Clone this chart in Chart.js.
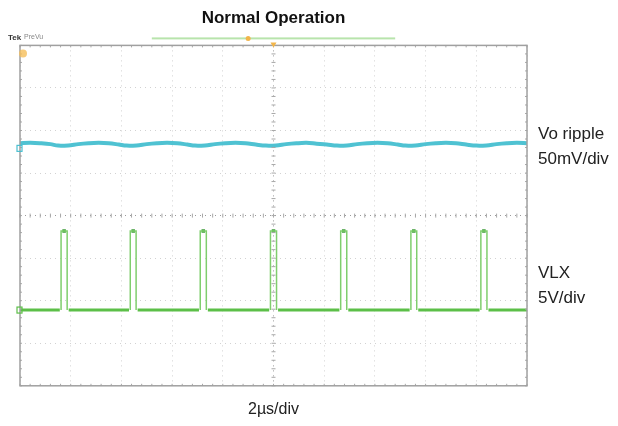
<!DOCTYPE html>
<html lang="en">
<head>
<meta charset="UTF-8">
<title>Normal Operation</title>
<script src="https://cdn.jsdelivr.net/npm/chart.js"></script>
<style>
  html, body { margin: 0; padding: 0; background: #fff; }
</style>
</head>
<body>
<canvas id="scope" width="618" height="426"></canvas>
<script>
// horizontal: time in µs (2µs/div, 10 div); vertical: screen divisions (8 div, 0 = centre)
const timeMin = 0, timeMax = 20, timeStep = 2;
const divMin = -4, divMax = 4;

// Vo ripple trace (cyan), in divisions
const voTimes = [0, 0.4, 0.8, 1.2, 1.5, 1.9, 2.3, 2.7, 3.1, 3.5, 3.9, 4.2, 4.6, 5.0, 5.4, 5.8, 6.2, 6.6, 6.9, 7.3,
                 7.7, 8.1, 8.5, 8.9, 9.3, 9.7, 10.1, 10.5, 10.9, 11.3, 11.7, 12.1, 12.5, 12.9, 13.3, 13.7, 14.1, 14.5,
                 14.9, 15.2, 15.6, 16.0, 16.4, 16.8, 17.2, 17.6, 18.0, 18.4, 18.8, 19.2, 19.6, 20.0];
const voLevel = [1.70, 1.71, 1.70, 1.68, 1.645, 1.65, 1.68, 1.70, 1.71, 1.70, 1.67, 1.645, 1.65, 1.68, 1.70, 1.71, 1.70, 1.67, 1.645, 1.65,
                 1.68, 1.70, 1.71, 1.70, 1.67, 1.645, 1.65, 1.68, 1.70, 1.71, 1.69, 1.67, 1.645, 1.65, 1.68, 1.70, 1.71, 1.70,
                 1.67, 1.645, 1.65, 1.68, 1.70, 1.71, 1.70, 1.67, 1.645, 1.65, 1.68, 1.70, 1.71, 1.70];

// VLX switch node (green): pulse edges in µs, levels in divisions
const vlxRise = [1.62, 4.35, 7.11, 9.88, 12.65, 15.42, 18.18];
const vlxFall = [1.86, 4.58, 7.35, 10.12, 12.89, 15.65, 18.42];
const vlxLow = -2.22;
const vlxHigh = -0.36;

const channelTags = [{ label: 'C', level: 1.58, color: '#49bfd0' }, { label: 'D', level: -2.22, color: '#5cbf48' }];
const sideLabels = [{ lines: ['Vo ripple', '50mV/div'], level: 1.79 }, { lines: ['VLX', '5V/div'], level: -1.47 }];

// build line point lists from the read values
const voPoints = voTimes.map((t, i) => ({ x: t, y: voLevel[i] }));

const lowPoints = [{ x: timeMin, y: vlxLow }];
const pulsePoints = [];
const topPoints = [];
vlxRise.forEach((r, i) => {
    const f = vlxFall[i];
    lowPoints.push({ x: r - 0.05, y: vlxLow }, { x: r, y: null }, { x: f + 0.06, y: vlxLow });
    pulsePoints.push({ x: r, y: vlxLow }, { x: r, y: vlxHigh }, { x: f, y: vlxHigh }, { x: f, y: vlxLow }, { x: f + 0.01, y: null });
    topPoints.push({ x: (r + f) / 2, y: vlxHigh });
});
lowPoints.push({ x: timeMax, y: vlxLow });

const scopeDecor = {
    id: 'scopeDecor',
    afterDraw(chart) {
        const { ctx, chartArea: a, scales: { x, y } } = chart;
        ctx.save();

        // minor ticks on the centre cross and frame
        ctx.strokeStyle = '#a8a8a8';
        ctx.lineWidth = 1;
        const cx = x.getPixelForValue(10), cy = y.getPixelForValue(0);
        for (let t = timeMin; t <= timeMax + 0.001; t += timeStep / 5) {
            const px = x.getPixelForValue(t);
            ctx.beginPath();
            ctx.moveTo(px, cy - 2); ctx.lineTo(px, cy + 2);
            ctx.moveTo(px, a.top); ctx.lineTo(px, a.top + 2);
            ctx.moveTo(px, a.bottom); ctx.lineTo(px, a.bottom - 2);
            ctx.stroke();
        }
        for (let d = divMin; d <= divMax + 0.001; d += 0.2) {
            const py = y.getPixelForValue(d);
            ctx.beginPath();
            ctx.moveTo(cx - 2, py); ctx.lineTo(cx + 2, py);
            ctx.moveTo(a.left, py); ctx.lineTo(a.left + 2, py);
            ctx.moveTo(a.right, py); ctx.lineTo(a.right - 2, py);
            ctx.stroke();
        }

        // frame
        ctx.strokeStyle = '#a0a0a0';
        ctx.lineWidth = 1.5;
        ctx.strokeRect(a.left, a.top, a.right - a.left, a.bottom - a.top);

        // header: Tek PreVu, record bar, trigger markers
        ctx.textBaseline = 'middle';
        ctx.textAlign = 'left';
        ctx.fillStyle = '#333';
        ctx.font = 'bold 8px Arial';
        ctx.fillText('Tek', 8, a.top - 8);
        ctx.fillStyle = '#888';
        ctx.font = '7px Arial';
        ctx.fillText('PreVu', 24, a.top - 8);
        ctx.fillStyle = '#b8e4ac';
        ctx.fillRect(x.getPixelForValue(5.2), a.top - 8, x.getPixelForValue(14.8) - x.getPixelForValue(5.2), 2);
        ctx.fillStyle = '#f2b54a';
        ctx.beginPath();
        ctx.arc(x.getPixelForValue(9.0), a.top - 7, 2.5, 0, Math.PI * 2);
        ctx.fill();
        ctx.beginPath();
        ctx.moveTo(cx - 3, a.top - 3); ctx.lineTo(cx + 3, a.top - 3); ctx.lineTo(cx, a.top + 2);
        ctx.closePath();
        ctx.fill();
        ctx.fillStyle = 'rgba(245, 190, 90, 0.8)';
        ctx.beginPath();
        ctx.arc(a.left + 3, a.top + 8, 4, 0, Math.PI * 2);
        ctx.fill();

        // channel ground tags
        channelTags.forEach(tag => {
            const py = y.getPixelForValue(tag.level);
            ctx.strokeStyle = tag.color;
            ctx.lineWidth = 1.2;
            ctx.strokeRect(a.left - 3, py - 3, 5, 6);
        });

        // side labels
        ctx.fillStyle = '#222';
        ctx.font = '17px Arial';
        ctx.textBaseline = 'alphabetic';
        sideLabels.forEach(lbl => {
            const py = y.getPixelForValue(lbl.level);
            lbl.lines.forEach((line, i) => ctx.fillText(line, a.right + 11, py + i * 25));
        });
        ctx.restore();
    }
};

const gridColor = centre => ctx => (ctx.tick && ctx.tick.value === centre ? '#9a9a9a' : '#d2d2d2');

new Chart(document.getElementById('scope'), {
    type: 'line',
    data: {
        datasets: [
            { label: 'Vo ripple', data: voPoints, borderColor: '#4fc2d2', borderWidth: 4, tension: 0.35, pointRadius: 0 },
            { label: 'VLX low', data: lowPoints, borderColor: '#5cbf48', borderWidth: 3, pointRadius: 0, spanGaps: false },
            { label: 'VLX pulse', data: pulsePoints, borderColor: '#7fce6d', borderWidth: 1.5, pointRadius: 0, spanGaps: false },
            { label: 'VLX top', data: topPoints, showLine: false, pointStyle: 'rect', pointRadius: 2.5,
              pointBackgroundColor: '#3f9d3a', pointBorderWidth: 0 }
        ]
    },
    options: {
        responsive: false,
        animation: false,
        layout: { padding: { left: 20, right: 91, top: 8, bottom: 5 } },
        plugins: {
            legend: { display: false },
            tooltip: { enabled: false },
            title: {
                display: true, fullSize: false, text: 'Normal Operation', color: '#111',
                font: { family: 'Arial', size: 17, weight: 'bold' }, padding: { top: 0, bottom: 17 }
            }
        },
        scales: {
            x: {
                type: 'linear', min: timeMin, max: timeMax,
                ticks: { display: false, stepSize: timeStep },
                grid: { color: gridColor(10), lineWidth: 1, drawTicks: false },
                border: { display: false, dash: [1, 4] },
                title: { display: true, text: '2µs/div', color: '#222', font: { family: 'Arial', size: 16 }, padding: { top: 14, bottom: 2 } }
            },
            y: {
                min: divMin, max: divMax,
                ticks: { display: false, stepSize: 1 },
                grid: { color: gridColor(0), lineWidth: 1, drawTicks: false },
                border: { display: false, dash: [1, 4] }
            }
        }
    },
    plugins: [scopeDecor]
});
</script>
</body>
</html>
